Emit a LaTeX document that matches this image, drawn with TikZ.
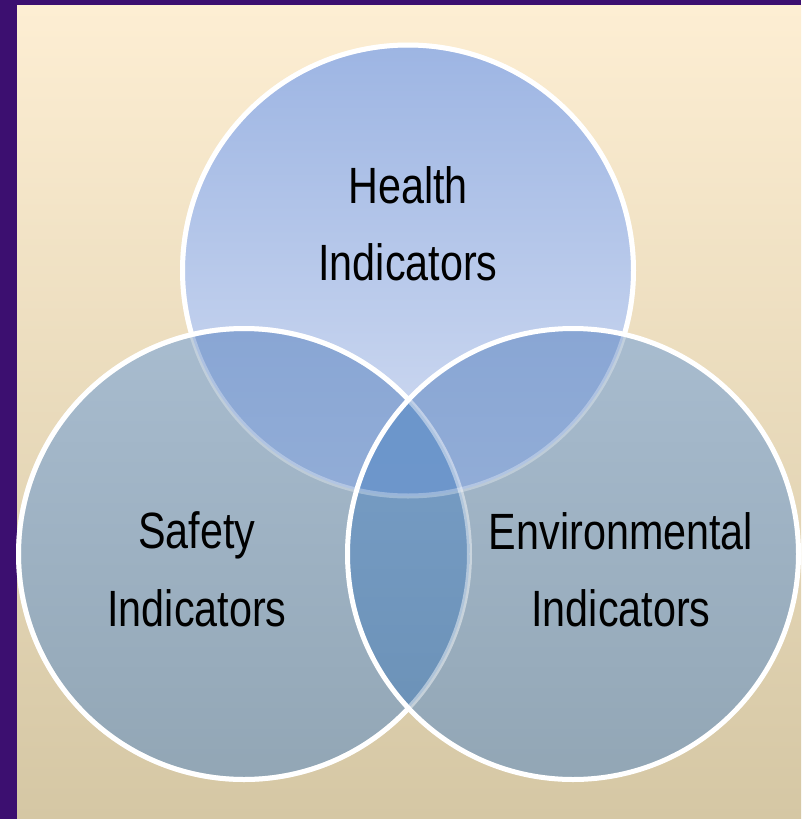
\documentclass[tikz,border=0pt]{standalone}
\usepackage{fontspec}
\setmainfont[FakeStretch=0.81]{Liberation Sans}
\definecolor{frame}{HTML}{3C0F70}
\definecolor{paperTop}{HTML}{FDEED3}
\definecolor{paperBot}{HTML}{D5C7A4}
\definecolor{healthTop}{HTML}{9DB5E3}
\definecolor{healthBot}{HTML}{D3DDF2}
\definecolor{sideTop}{HTML}{A8BCCF}
\definecolor{sideBot}{HTML}{92A6B5}
\definecolor{pairTop}{HTML}{89A6D4}
\definecolor{pairBot}{HTML}{A0B8DC}
\definecolor{lensTop}{HTML}{7AA0C9}
\definecolor{lensBot}{HTML}{6A90B5}
\definecolor{coreTop}{HTML}{6B95CB}
\definecolor{coreBot}{HTML}{7099CC}
\tikzset{
  lbl/.style={font=\fontsize{51pt}{60pt}\selectfont, text=black, inner sep=0pt, anchor=base},
  rim/.style={draw=white, line width=5pt},
  faderim/.style={draw=white, line width=5pt, draw opacity=#1},
}
\def\R{225.5pt}
\begin{document}
\begin{tikzpicture}[x=1pt,y=-1pt]
\useasboundingbox (0,0) rectangle (801,819);
% frame and paper
\fill[frame] (0,0) rectangle (801,819);
\shade[top color=paperTop, bottom color=paperBot] (17,5) rectangle (801,819);

\coordinate (ct) at (408,270.5);
\coordinate (cl) at (244,554);
\coordinate (cr) at (573,554);

% single regions
\shade[top color=healthTop, bottom color=healthBot] (ct) circle[radius=\R];
\shade[top color=sideTop, bottom color=sideBot] (cl) circle[radius=\R];
\shade[top color=sideTop, bottom color=sideBot] (cr) circle[radius=\R];
% overlaps with the health circle
\begin{scope}
  \clip (ct) circle[radius=\R];
  \shade[top color=pairTop, bottom color=pairBot] (cl) circle[radius=\R];
  \shade[top color=pairTop, bottom color=pairBot] (cr) circle[radius=\R];
\end{scope}
% safety / environmental lens
\begin{scope}
  \clip (cl) circle[radius=\R];
  \shade[top color=lensTop, bottom color=lensBot] (cr) circle[radius=\R];
  \clip (ct) circle[radius=\R];
  \shade[top color=coreTop, bottom color=coreBot] (cr) circle[radius=\R];
\end{scope}

% rims: health circle, faint where covered
\path[faderim=0.3] (ct) circle[radius=\R];
\begin{scope}
  \clip (801,0) rectangle (0,819) (cl) circle[radius=\R];
  \clip (801,0) rectangle (0,819) (cr) circle[radius=\R];
  \path[rim] (ct) circle[radius=\R];
\end{scope}
% safety rim, faint under the environmental circle
\path[faderim=0.45] (cl) circle[radius=\R];
\begin{scope}
  \clip (801,0) rectangle (0,819) (cr) circle[radius=\R];
  \path[rim] (cl) circle[radius=\R];
\end{scope}
% environmental rim
\path[rim] (cr) circle[radius=\R];

% labels
\node[lbl] (h1) at (408,203) {Health};
\node[lbl] (h2) at (408,280) {Indicators};
\node[lbl] (s1) at (197,548) {Safety};
\node[lbl] (s2) at (197,626) {Indicators};
\node[lbl] (e1) at (621,549) {Environmental};
\node[lbl] (e2) at (621,626) {Indicators};
\end{tikzpicture}
\end{document}
